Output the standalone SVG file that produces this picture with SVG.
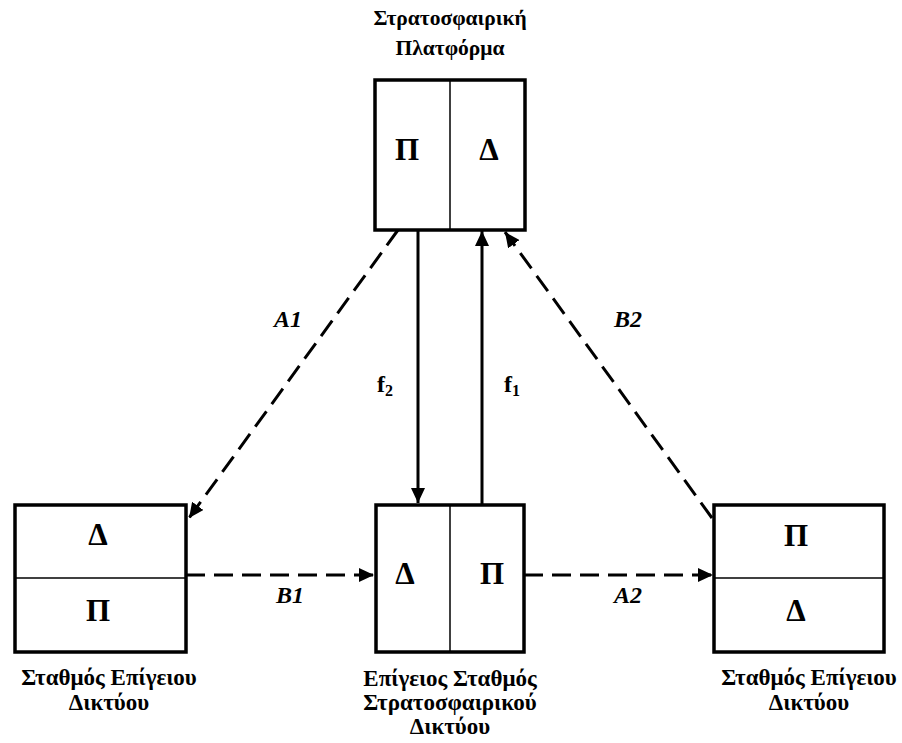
<svg xmlns="http://www.w3.org/2000/svg" width="902" height="743" viewBox="0 0 902 743">
<style>
.box{fill:#fff;stroke:#000;stroke-width:3.5}
.div{stroke:#000;stroke-width:1.5}
text{font-family:"Liberation Serif","Times New Roman",serif;font-weight:bold}
.big{font-size:31px;text-anchor:middle}
.lbl{font-size:21.5px;text-anchor:middle}
.lbl2{font-size:23px;text-anchor:middle}
.it{font-style:italic;font-size:24px;text-anchor:middle}
.f{font-size:24px}
.solid{stroke:#000;stroke-width:3;fill:none}
.dash{stroke:#000;stroke-width:3;fill:none;stroke-dasharray:19 9}
</style>
<defs>
<marker id="ah" markerUnits="userSpaceOnUse" markerWidth="16" markerHeight="14" refX="15" refY="7" orient="auto">
<path d="M0,0 L15,7 L0,14 Z" fill="#000"/>
</marker>
</defs>
<g id="connectors">
<line class="dash" x1="398" y1="230" x2="189" y2="518" marker-end="url(#ah)"/>
<line class="dash" x1="712" y1="518" x2="505" y2="232" marker-end="url(#ah)"/>
<line class="solid" x1="418" y1="230" x2="418" y2="503" marker-end="url(#ah)"/>
<line class="solid" x1="482" y1="504" x2="482" y2="231" marker-end="url(#ah)"/>
<line class="dash" x1="186" y1="575" x2="374" y2="575" marker-end="url(#ah)"/>
<line class="dash" x1="524" y1="575" x2="713" y2="575" marker-end="url(#ah)"/>
<text class="it" x="288" y="327">A1</text>
<text class="it" x="628" y="327">B2</text>
<text class="it" x="290" y="603">B1</text>
<text class="it" x="628" y="603">A2</text>
<text class="f" x="377" y="392">f<tspan font-size="16" dy="4">2</tspan></text>
<text class="f" x="504" y="392">f<tspan font-size="16" dy="4">1</tspan></text>
</g>
<g id="platform">
<rect class="box" x="375" y="80" width="150" height="150"/>
<line class="div" x1="450" y1="80" x2="450" y2="230"/>
<text class="big" x="407" y="160">Π</text>
<text class="big" x="489" y="160">Δ</text>
<text class="lbl" x="450" y="25">Στρατοσφαιρική</text>
<text class="lbl" x="450" y="55">Πλατφόρμα</text>
</g>
<g id="ground-left">
<rect class="box" x="15" y="505" width="171" height="147"/>
<line class="div" x1="15" y1="578" x2="186" y2="578"/>
<text class="big" x="98" y="545">Δ</text>
<text class="big" x="98" y="621">Π</text>
<text class="lbl2" x="109" y="685">Σταθμός Επίγειου</text>
<text class="lbl2" x="109" y="710">Δικτύου</text>
</g>
<g id="ground-center">
<rect class="box" x="376" y="505" width="148" height="147"/>
<line class="div" x1="450" y1="505" x2="450" y2="652"/>
<text class="big" x="405" y="584">Δ</text>
<text class="big" x="492" y="584">Π</text>
<text class="lbl2" x="450" y="686">Επίγειος Σταθμός</text>
<text class="lbl2" x="450" y="710">Στρατοσφαιρικού</text>
<text class="lbl2" x="450" y="734">Δικτύου</text>
</g>
<g id="ground-right">
<rect class="box" x="714" y="505" width="170" height="147"/>
<line class="div" x1="714" y1="578" x2="884" y2="578"/>
<text class="big" x="796" y="546">Π</text>
<text class="big" x="796" y="621">Δ</text>
<text class="lbl2" x="809" y="685">Σταθμός Επίγειου</text>
<text class="lbl2" x="809" y="710">Δικτύου</text>
</g>
</svg>
